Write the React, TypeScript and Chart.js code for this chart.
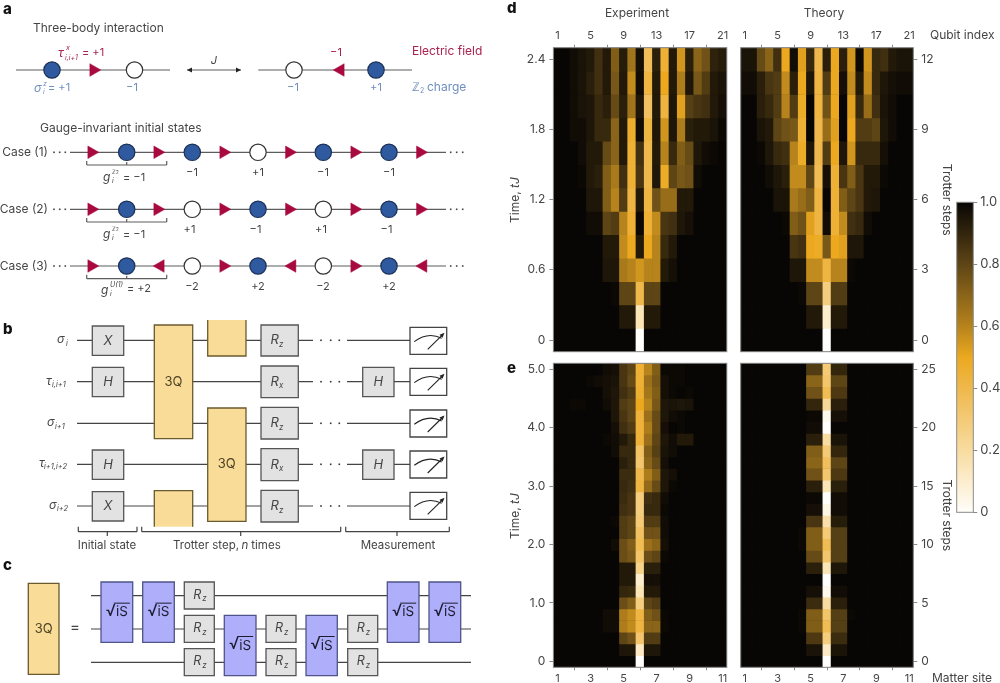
import React, { useEffect, useRef } from "react";
import Chart from "chart.js/auto";

// ---------- heatmap values, in percent of the colour bar; first row is the latest time ----------
const columnNames = ["1","2","3","4","5","6","7","8","9","10","11","12","13","14","15","16","17","18","19","20","21"];
const labelledColumns = [0, 4, 8, 12, 16, 20];
const qubitLabels = ["1", "5", "9", "13", "17", "21"];
const siteLabels = ["1", "3", "5", "7", "9", "11"];
const dRowTicks = [0, 3, 6, 9, 12];
const dTimeLabels = ["0", "0.6", "1.2", "1.8", "2.4"];
const dStepLabels = ["0", "3", "6", "9", "12"];
const eRowTicks = [0, 5, 10, 15, 20, 25];
const eTimeLabels = ["0", "1.0", "2.0", "3.0", "4.0", "5.0"];
const eStepLabels = ["0", "5", "10", "15", "20", "25"];
const colorbarTicks = [0, 0.2, 0.4, 0.6, 0.8, 1];

const dExperiment = [
  [100,100,98,96,94,87,94,72,93,65,97,37,92,45,94,55,92,70,76,91,93],
  [100,100,98,96,92,87,94,74,94,58,98,42,94,50,94,62,95,74,83,94,96],
  [100,100,98,96,95,89,92,78,92,65,95,35,94,43,95,52,82,85,87,94,97],
  [100,100,98,98,95,89,89,70,94,47,98,42,95,55,95,62,92,94,94,96,99],
  [100,100,100,98,94,94,78,70,94,45,87,40,94,60,89,72,78,95,98,99,100],
  [100,100,100,99,94,92,72,63,87,45,85,40,95,48,80,74,76,98,100,100,100],
  [100,100,100,100,95,95,72,60,83,42,94,42,76,67,67,94,94,100,100,100,100],
  [100,100,100,100,98,98,80,83,60,45,99,45,58,85,87,95,97,100,100,100,100],
  [100,100,100,100,100,100,94,94,58,50,94,50,60,89,94,100,100,100,100,100,100],
  [100,100,100,100,100,100,95,95,63,60,55,60,60,94,97,100,100,100,100,100,100],
  [100,100,100,100,100,100,100,99,80,80,40,80,80,100,100,100,100,100,100,100,100],
  [100,100,100,100,100,100,100,100,94,94,15,94,94,100,100,100,100,100,100,100,100],
  [100,100,100,100,100,100,100,100,100,100,0,100,100,100,100,100,100,100,100,100,100],
];
const dTheory = [
  [96,96,78,70,87,50,98,52,89,40,92,50,92,55,99,55,89,87,94,96,96],
  [98,98,92,85,83,58,92,50,95,42,83,50,97,58,94,58,89,95,97,98,98],
  [100,100,92,89,83,60,83,48,100,42,76,50,100,52,89,67,87,96,98,100,100],
  [100,100,96,94,80,76,74,45,100,40,67,52,100,50,83,83,80,95,98,100,100],
  [100,100,99,95,89,87,60,48,95,40,83,50,95,55,89,89,89,97,100,100,100],
  [100,100,100,98,95,92,58,58,80,38,97,45,85,72,85,94,94,99,100,100,100],
  [100,100,100,100,96,96,63,67,72,42,100,45,72,80,85,94,95,100,100,100,100],
  [100,100,100,100,100,99,72,76,52,42,98,45,58,87,89,98,100,100,100,100,100],
  [100,100,100,100,100,100,85,87,50,48,74,50,52,95,95,100,100,100,100,100,100],
  [100,100,100,100,100,100,95,95,58,58,42,60,60,99,100,100,100,100,100,100,100],
  [100,100,100,100,100,100,100,99,80,80,28,83,83,100,100,100,100,100,100,100,100],
  [100,100,100,100,100,100,100,100,94,94,10,94,94,100,100,100,100,100,100,100,100],
  [100,100,100,100,100,100,100,100,100,100,0,100,100,100,100,100,100,100,100,100,100],
];
const eExperiment = [
  [100,100,100,100,100,100,98,97,85,80,45,60,72,99,99,99,100,100,100,100,100],
  [100,100,100,100,99,98,97,96,85,78,45,66,74,97,99,99,100,100,100,100,100],
  [100,100,100,100,100,100,97,95,87,83,46,64,72,97,99,100,99,100,100,100,100],
  [100,100,99,99,100,100,98,95,83,80,50,60,74,95,96,95,96,100,100,100,100],
  [100,100,100,100,100,100,100,95,85,80,44,66,78,95,98,99,100,100,100,100,100],
  [100,100,100,100,100,100,100,97,87,83,44,62,78,97,100,99,100,100,100,100,100],
  [100,100,100,100,100,100,99,98,94,89,44,66,80,95,98,94,94,100,100,100,100],
  [100,100,100,100,100,100,100,98,89,89,34,72,82,96,98,100,100,100,100,100,100],
  [100,100,100,100,100,100,100,100,92,89,32,70,78,97,100,100,100,100,100,100,100],
  [100,100,100,100,100,100,100,100,88,88,40,62,72,95,97,100,100,100,100,100,100],
  [100,100,100,100,100,100,100,100,89,87,42,68,78,95,99,100,100,100,100,100,100],
  [100,100,100,100,100,100,100,100,88,85,28,87,89,98,100,100,100,100,100,100,100],
  [100,100,100,100,100,100,100,100,87,85,28,89,89,99,100,100,100,100,100,100,100],
  [100,100,100,100,100,100,100,99,83,80,30,83,83,98,100,100,100,100,100,100,100],
  [100,100,100,100,100,100,100,100,83,80,35,76,76,98,100,100,100,100,100,100,100],
  [100,100,100,100,100,100,100,98,77,72,38,66,70,97,100,100,100,100,100,100,100],
  [100,100,100,100,100,100,100,100,77,74,33,77,80,99,100,100,100,100,100,100,100],
  [100,100,100,100,100,100,100,100,94,94,25,92,92,100,100,100,100,100,100,100,100],
  [100,100,100,100,100,100,100,100,94,94,10,97,97,100,100,100,100,100,100,100,100],
  [100,100,100,100,100,100,100,100,90,89,15,94,94,100,100,100,100,100,100,100,100],
  [100,100,100,100,100,100,100,100,77,72,28,80,83,100,100,100,100,100,100,100,100],
  [100,100,100,100,100,100,98,98,62,58,42,72,76,99,100,100,100,100,100,100,100],
  [100,100,100,100,100,100,98,98,62,58,42,70,70,99,100,100,100,100,100,100,100],
  [100,100,100,100,100,100,100,100,80,76,32,83,83,100,100,100,100,100,100,100,100],
  [100,100,100,100,100,100,100,100,95,95,12,95,95,100,100,100,100,100,100,100,100],
  [100,100,100,100,100,100,100,100,100,100,0,100,100,100,100,100,100,100,100,100,100],
];
const eTheory = [
  [100,100,100,100,100,100,100,100,83,83,30,90,90,100,100,100,100,100,100,100,100],
  [100,100,100,100,100,100,100,100,70,70,32,80,80,100,100,100,100,100,100,100,100],
  [100,100,100,100,100,100,100,100,76,76,38,84,84,100,100,100,100,100,100,100,100],
  [100,100,100,100,100,100,100,100,90,90,22,92,92,100,100,100,100,100,100,100,100],
  [100,100,100,100,100,100,100,100,99,99,3,97,97,100,100,100,100,100,100,100,100],
  [100,100,100,100,100,100,100,100,98,98,0,100,100,100,100,100,100,100,100,100,100],
  [100,100,100,100,100,100,100,100,92,92,20,96,96,100,100,100,100,100,100,100,100],
  [100,100,100,100,100,100,100,100,72,72,30,90,90,100,100,100,100,100,100,100,100],
  [100,100,100,100,100,100,100,100,70,70,36,80,80,100,100,100,100,100,100,100,100],
  [100,100,100,100,100,100,100,100,76,76,32,84,84,100,100,100,100,100,100,100,100],
  [100,100,100,100,100,100,100,100,92,92,15,92,92,100,100,100,100,100,100,100,100],
  [100,100,100,100,100,100,100,100,99,99,0,98,98,100,100,100,100,100,100,100,100],
  [100,100,100,100,100,100,100,100,97,97,5,98,98,100,100,100,100,100,100,100,100],
  [100,100,100,100,100,100,100,100,85,85,18,93,93,100,100,100,100,100,100,100,100],
  [100,100,100,100,100,100,100,99,72,72,30,82,82,100,100,100,100,100,100,100,100],
  [100,100,100,100,100,100,100,99,72,72,38,82,82,100,100,100,100,100,100,100,100],
  [100,100,100,100,100,100,100,100,78,78,32,82,82,100,100,100,100,100,100,100,100],
  [100,100,100,100,100,100,100,100,92,92,15,95,95,100,100,100,100,100,100,100,100],
  [100,100,100,100,100,100,100,100,100,100,0,100,100,100,100,100,100,100,100,100,100],
  [100,100,100,100,100,100,100,100,97,97,3,98,98,100,100,100,100,100,100,100,100],
  [100,100,100,100,100,100,100,100,88,88,20,92,92,100,100,100,100,100,100,100,100],
  [100,100,100,100,100,100,100,99,72,72,33,82,82,99,100,100,100,100,100,100,100],
  [100,100,100,100,100,100,100,99,72,72,38,82,82,100,100,100,100,100,100,100,100],
  [100,100,100,100,100,100,100,100,84,84,28,88,88,100,100,100,100,100,100,100,100],
  [100,100,100,100,100,100,100,100,96,96,12,96,96,100,100,100,100,100,100,100,100],
  [100,100,100,100,100,100,100,100,100,100,0,100,100,100,100,100,100,100,100,100,100],
];

// ---------- colour scale ----------
const colormapStops = [0, 0.2, 0.4, 0.5, 0.6, 0.8, 1];
const colormapColors = [[255,254,250],[248,220,160],[239,184,76],[236,169,31],[182,131,28],[94,69,22],[8,6,4]];
function colorFor(percent: number) {
  const v = percent / 100;
  let i = 0;
  while (i < colormapStops.length - 2 && v > colormapStops[i + 1]) i++;
  const f = (v - colormapStops[i]) / (colormapStops[i + 1] - colormapStops[i]);
  const c = colormapColors[i].map((a, k) => Math.round(a + (colormapColors[i + 1][k] - a) * f));
  return `rgb(${c[0]},${c[1]},${c[2]})`;
}

const FONT = "Inter, 'Noto Sans', sans-serif";
const TEXT = "#454545";
const AXIS = "#8a8a8a";

const framePlugin = {
  id: "frame",
  beforeDatasetsDraw(chart: any) {
    if (chart.options.plugins.frame?.fill) {
      const a = chart.chartArea;
      chart.ctx.fillStyle = "#000";
      chart.ctx.fillRect(a.left, a.top, a.right - a.left, a.bottom - a.top);
    }
  },
  afterDraw(chart: any) {
    const a = chart.chartArea, c = chart.ctx;
    c.save();
    c.strokeStyle = AXIS;
    c.lineWidth = 1;
    c.strokeRect(a.left, a.top, a.right - a.left, a.bottom - a.top);
    c.restore();
  },
};

type Rect = { l: number; t: number; r: number; b: number };

function noScalePadding(s: any) {
  s.paddingTop = 0; s.paddingBottom = 0; s.paddingLeft = 0; s.paddingRight = 0;
}

function Heatmap({ box, area, values, xLabels, xPos, yPos, rowTicks, rowLabels, yTitle }: any) {
  const ref = useRef<HTMLCanvasElement>(null);
  useEffect(() => {
    const n = values.length;
    const datasets = values.map((row: number[], i: number) => {
      const r = n - 1 - i;
      return {
        data: row.map(() => [r - 0.5, r + 0.5]),
        backgroundColor: row.map(colorFor),
        borderWidth: 0,
        barPercentage: 1,
        categoryPercentage: 1,
        grouped: false,
      };
    });
    const chart = new Chart(ref.current!, {
      type: "bar",
      data: { labels: columnNames, datasets },
      plugins: [framePlugin],
      options: {
        animation: false,
        responsive: false,
        events: [],
        layout: {
          autoPadding: false,
          padding: {
            left: yPos === "left" ? 0 : area.l - box.l,
            right: yPos === "right" ? 0 : box.r - area.r,
            top: xPos === "top" ? 0 : area.t - box.t,
            bottom: xPos === "bottom" ? 0 : box.b - area.b,
          },
        },
        plugins: { legend: { display: false }, tooltip: { enabled: false }, frame: { fill: true } } as any,
        scales: {
          x: {
            type: "category",
            position: xPos,
            offset: true,
            afterBuildTicks: (s: any) => { s.ticks = labelledColumns.map((v) => ({ value: v })); },
            afterFit: (s: any) => { s.height = xPos === "top" ? area.t - box.t : box.b - area.b; noScalePadding(s); },
            grid: { drawOnChartArea: false, color: AXIS, tickLength: 3 },
            border: { display: false },
            ticks: {
              autoSkip: false, maxRotation: 0, minRotation: 0, padding: 2, color: TEXT,
              font: { family: FONT, size: 11 },
              callback: (v: any) => xLabels[labelledColumns.indexOf(v)],
            },
          },
          y: {
            type: "linear",
            position: yPos,
            min: -0.5,
            max: n - 0.5,
            afterBuildTicks: (s: any) => { s.ticks = rowTicks.map((v: number) => ({ value: v })); },
            afterFit: (s: any) => { s.width = yPos === "left" ? area.l - box.l : box.r - area.r; noScalePadding(s); },
            grid: { drawOnChartArea: false, color: AXIS, tickLength: 4 },
            border: { display: false },
            title: yTitle
              ? { display: true, text: yTitle, color: TEXT, padding: { top: 1, bottom: 2 }, font: { family: FONT, size: 12 } }
              : { display: false },
            ticks: {
              padding: 4, color: TEXT, font: { family: FONT, size: 12 },
              callback: (v: any) => rowLabels[rowTicks.indexOf(v)],
            },
          },
        },
      } as any,
    });
    return () => chart.destroy();
  }, []);
  return (
    <canvas
      ref={ref}
      width={box.r - box.l}
      height={box.b - box.t}
      style={{ position: "absolute", left: box.l, top: box.t, width: box.r - box.l, height: box.b - box.t }}
    />
  );
}

function Colorbar() {
  const ref = useRef<HTMLCanvasElement>(null);
  const box: Rect = { l: 950, t: 180, r: 1000, b: 530 };
  const area: Rect = { l: 956.7, t: 202.3, r: 973.3, b: 512.3 };
  useEffect(() => {
    const chart = new Chart(ref.current!, {
      type: "bar",
      data: {
        labels: ["colour"],
        datasets: [{
          data: [[0, 1]],
          barPercentage: 1,
          categoryPercentage: 1,
          borderWidth: 0,
          backgroundColor: (ctx: any) => {
            const a = ctx.chart.chartArea;
            if (!a || !isFinite(a.top) || !isFinite(a.bottom)) return "#000";
            const g = ctx.chart.ctx.createLinearGradient(0, a.bottom, 0, a.top);
            colormapStops.forEach((p, i) => { const c = colormapColors[i]; g.addColorStop(p, `rgb(${c[0]},${c[1]},${c[2]})`); });
            return g;
          },
        }],
      },
      plugins: [framePlugin],
      options: {
        animation: false, responsive: false, events: [],
        layout: { autoPadding: false, padding: { left: area.l - box.l, top: area.t - box.t, bottom: box.b - area.b, right: 0 } },
        plugins: { legend: { display: false }, tooltip: { enabled: false } },
        scales: {
          x: { display: false, offset: true },
          y: {
            position: "right", min: 0, max: 1,
            afterBuildTicks: (s: any) => { s.ticks = colorbarTicks.map((v) => ({ value: v })); },
            afterFit: (s: any) => { s.width = box.r - area.r; noScalePadding(s); },
            grid: { drawOnChartArea: false, color: AXIS, tickLength: 4 },
            border: { display: false },
            ticks: {
              padding: 3, color: TEXT, font: { family: FONT, size: 13 },
              callback: (v: any) => (v === 0 ? "0" : Number(v).toFixed(1)),
            },
          },
        },
      } as any,
    });
    return () => chart.destroy();
  }, []);
  return (
    <canvas ref={ref} width={box.r - box.l} height={box.b - box.t}
      style={{ position: "absolute", left: box.l, top: box.t, width: box.r - box.l, height: box.b - box.t }} />
  );
}

// ---------- schematic (panels a, b, c) placed on a page-sized scale ----------
const caseRowsY = [152.3, 209.3, 266];
const caseChargesX = [126.7, 192.3, 258, 323.3, 389];
const caseFieldsX = [93, 159, 225, 290.7, 356, 421.7];
const caseFilled = [[1, 1, 0, 1, 1], [1, 0, 1, 0, 1], [1, 0, 1, 0, 1]];
const caseDirections = [[1, 1, 1, 1, 1, 1], [1, 1, 1, 1, 1, 1], [1, -1, 1, -1, 1, -1]];
const caseNames = ["Case (1)", "Case (2)", "Case (3)"];
const caseValues = [
  { y: 172.7, items: [["−1", 192], ["+1", 258], ["−1", 323], ["−1", 389]] },
  { y: 230, items: [["+1", 189.5], ["−1", 255.5], ["+1", 321], ["−1", 386.5]] },
  { y: 286.7, items: [["−2", 192], ["+2", 258], ["−2", 323], ["+2", 389]] },
];
const wireRowsY = [340.3, 381.7, 423.3, 464.3, 506];
const sqrtRowsY = [595.7, 629, 662.3];

function pts(list: number[][]) { return list.map(([x, y]) => ({ x, y })); }
function segs(list: number[][]) {
  const out: any[] = [];
  list.forEach(([a, b, c, d]) => { out.push({ x: a, y: b }, { x: c, y: d }, { x: NaN, y: NaN }); });
  return out;
}

const schematicPlugin = {
  id: "schematic",
  afterDatasetsDraw(chart: any) {
    const c = chart.ctx;
    const X = (v: number) => chart.scales.x.getPixelForValue(v);
    const Y = (v: number) => chart.scales.y.getPixelForValue(v);
    const t = (s: string, x: number, y: number, o: any = {}) => {
      c.save();
      c.font = `${o.italic ? "italic " : ""}${o.weight ? o.weight + " " : ""}${o.size || 12}px ${FONT}`;
      c.fillStyle = o.color || TEXT;
      c.textAlign = o.align || "left";
      c.textBaseline = "middle";
      c.fillText(s, X(x), Y(y));
      c.restore();
    };
    const rect = (x1: number, y1: number, x2: number, y2: number, fill: string, stroke: string, open?: string) => {
      c.save();
      c.fillStyle = fill;
      c.strokeStyle = stroke;
      c.lineWidth = 1.3;
      const a = X(x1), b = Y(y1), w = X(x2) - a, h = Y(y2) - b;
      c.fillRect(a, b, w, h);
      c.beginPath();
      if (open === "top") {
        c.moveTo(a, b); c.lineTo(a, b + h); c.lineTo(a + w, b + h); c.lineTo(a + w, b);
      } else if (open === "bottom") {
        c.moveTo(a, b + h); c.lineTo(a, b); c.lineTo(a + w, b); c.lineTo(a + w, b + h);
      } else {
        c.rect(a, b, w, h);
      }
      c.stroke();
      c.restore();
    };
    const GREY = "#e2e2e2", GS = "#555", YEL = "#f8dc98", YS = "#6b5a2c", PUR = "#aeaefa", PS = "#4f5488";

    // panel letters
    [["a", 3, 9], ["b", 3, 329], ["c", 3, 565], ["d", 507, 8], ["e", 507, 368]].forEach(([s, x, y]: any) =>
      t(s, x, y, { size: 15, weight: 800, color: "#111" }));

    // panel a
    const RED = "#a8224f", BL = "#6f8fbe";
    t("Three-body interaction", 33, 28, { size: 12 });
    t("Gauge-invariant initial states", 40, 128, { size: 12 });
    t("τ", 58, 53, { color: RED, italic: true, size: 12 });
    t("x", 66, 48, { color: RED, italic: true, size: 7 });
    t("i,i+1", 65, 58, { color: RED, italic: true, size: 7 });
    t("= +1", 82, 53, { color: RED, size: 11 });
    t("−1", 336, 53, { color: RED, size: 11, align: "center" });
    t("Electric field", 412, 51, { color: RED, size: 12 });
    t("σ", 34, 88, { color: BL, italic: true, size: 12 });
    t("z", 43, 84, { color: BL, italic: true, size: 7 });
    t("i", 43, 92, { color: BL, italic: true, size: 7 });
    t("= +1", 48, 88, { color: BL, size: 11 });
    t("−1", 132, 88, { color: BL, size: 11, align: "center" });
    t("−1", 293, 88, { color: BL, size: 11, align: "center" });
    t("+1", 376, 88, { color: BL, size: 11, align: "center" });
    t("ℤ", 412, 87, { color: BL, size: 12 });
    t("2", 420, 91, { color: BL, size: 7 });
    t("charge", 427, 87, { color: BL, size: 12 });
    t("J", 214, 61, { italic: true, size: 11, align: "center" });
    c.save();
    c.fillStyle = "#222";
    [[187, 1], [241, -1]].forEach(([x, d]) => {
      c.beginPath();
      c.moveTo(X(x), Y(70)); c.lineTo(X(x + 5 * d), Y(67.6)); c.lineTo(X(x + 5 * d), Y(72.4));
      c.fill();
    });
    c.restore();

    // cases
    caseRowsY.forEach((y, i) => {
      t(caseNames[i], 48, y, { size: 12, align: "right" });
      [54, 59.7, 65.3, 450.7, 456.7, 462.7].forEach((x) => {
        c.fillStyle = "#444";
        c.fillRect(X(x) - 0.8, Y(y) - 0.8, 1.6, 1.6);
      });
      caseValues[i].items.forEach(([s, x]: any) => t(s, x, caseValues[i].y, { size: 11, align: "center" }));
    });
    [177, 234].forEach((y) => {
      t("g", 103, y, { italic: true, size: 12 });
      t("ℤ", 112, y - 5, { size: 6 });
      t("2", 116, y - 4, { size: 4.5 });
      t("i", 112, y + 4, { italic: true, size: 7 });
      t("= −1", 123, y + 0.5, { size: 11 });
    });
    t("g", 101, 290, { italic: true, size: 12 });
    t("U(1)", 110, 285, { italic: true, size: 7 });
    t("i", 110, 294, { italic: true, size: 7 });
    t("= +2", 127, 289, { size: 11 });

    // panel b gates
    [326, 491.7].forEach((y, i) => {
      rect(92.3, y, 123.7, y + 29.3, GREY, GS);
      t("X", 108, y + 14.7, { italic: true, size: 13, align: "center" });
    });
    [367.3, 450].forEach((y) => {
      rect(92.3, y, 123.7, y + 29.3, GREY, GS);
      t("H", 108, y + 14.7, { italic: true, size: 13, align: "center" });
      rect(362.7, y, 394, y + 29.3, GREY, GS);
      t("H", 378.3, y + 14.7, { italic: true, size: 13, align: "center" });
    });
    rect(154.3, 325, 192.7, 438.7, YEL, YS);
    t("3Q", 173.5, 382, { size: 13, align: "center", color: "#4d4324" });
    rect(207.7, 320, 246, 356, YEL, YS, "top");
    rect(154.3, 490.7, 192.7, 526.7, YEL, YS, "bottom");
    rect(207.7, 408, 246, 521.3, YEL, YS);
    t("3Q", 226.8, 464.5, { size: 13, align: "center", color: "#4d4324" });
    [[325, 356, "z"], [366, 397.7, "x"], [407.3, 439, "z"], [448.7, 480.7, "x"], [490.3, 522, "z"]].forEach(([a, b, s]: any) => {
      rect(261, a, 298.3, b, GREY, GS);
      const m = (a + b) / 2;
      t("R", 270.5, m, { italic: true, size: 13 });
      t(s, 279, m + 4, { italic: true, size: 8 });
    });
    [327.3, 368.3, 410, 451, 492.3].forEach((y) => {
      rect(410, y, 446.7, y + 27, "#fff", "#444");
      c.save();
      c.strokeStyle = "#222"; c.lineWidth = 1.1;
      c.beginPath();
      c.moveTo(X(414.3), Y(y + 14.3));
      c.quadraticCurveTo(X(428), Y(y + 4), X(441.7), Y(y + 11));
      c.moveTo(X(427.7), Y(y + 22));
      c.lineTo(X(443), Y(y + 7));
      c.stroke();
      c.fillStyle = "#222";
      c.beginPath();
      c.moveTo(X(444.5), Y(y + 5.5)); c.lineTo(X(439.5), Y(y + 7.5)); c.lineTo(X(442.5), Y(y + 10.5));
      c.fill();
      c.restore();
    });
    wireRowsY.forEach((y) => {
      [321, 330.7, 339.3].forEach((x) => {
        c.fillStyle = "#333";
        c.fillRect(X(x) - 0.8, Y(y) - 0.8, 1.6, 1.6);
      });
    });
    [["σ", 57, 340, "i", 66, 343], ["τ", 46, 382, "i,i+1", 52, 384], ["σ", 47, 423, "i+1", 55, 426],
     ["τ", 39, 464, "i+1,i+2", 44, 466], ["σ", 49, 506, "i+2", 57, 508]].forEach(([a, x, y, s, sx, sy]: any) => {
      t(a, x, y - 1, { italic: true, size: 12 });
      t(s, sx, sy + 1, { italic: true, size: 7.5 });
    });
    t("Initial state", 107, 546, { size: 11.5, align: "center" });
    t("Trotter step,", 206, 546, { size: 11.5, align: "center" });
    t("n", 245, 546, { size: 11.5, italic: true, align: "center" });
    t("times", 266, 546, { size: 11.5, align: "center" });
    t("Measurement", 398, 546, { size: 11.5, align: "center" });

    // panel c gates
    rect(28.3, 583.3, 59, 674.3, YEL, YS);
    t("3Q", 43.7, 629, { size: 13, align: "center", color: "#4d4324" });
    t("=", 75, 627, { size: 15, align: "center" });
    const sqrt = (x1: number, x2: number, y1: number, y2: number) => {
      rect(x1, y1, x2, y2, PUR, PS);
      const cx = (x1 + x2) / 2, cy = (y1 + y2) / 2 - 1;
      t("√", cx - 6, cy, { size: 16, align: "center", color: "#1c1c30" });
      t("iS", cx + 5, cy + 1, { size: 13.5, align: "center", color: "#1c1c30" });
      c.save();
      c.strokeStyle = "#1c1c30"; c.lineWidth = 1;
      c.beginPath(); c.moveTo(X(cx - 3), Y(cy - 8)); c.lineTo(X(cx + 13), Y(cy - 8)); c.stroke();
      c.restore();
    };
    sqrt(101, 132.7, 582, 642.3);
    sqrt(142.7, 174.3, 582, 642.3);
    sqrt(224.3, 256, 615.3, 675.7);
    sqrt(306, 337.3, 615.3, 675.7);
    sqrt(387.3, 419, 582, 642.3);
    sqrt(429, 460.7, 582, 642.3);
    [[184.3, 582], [184.3, 615.3], [184.3, 648.7], [266, 615.3], [266, 648.7], [347.7, 615.3], [347.7, 648.7]].forEach(([x, y]) => {
      rect(x, y, x + 30, y + 27, GREY, GS);
      t("R", x + 9, y + 13, { italic: true, size: 12.5 });
      t("z", x + 18, y + 17, { italic: true, size: 8 });
    });

    // labels of panels d and e
    t("Experiment", 637, 13, { size: 12, align: "center" });
    t("Theory", 824, 13, { size: 12, align: "center" });
    t("Qubit index", 930, 35, { size: 12 });
    t("Matter site", 932, 678, { size: 12 });
    [[515, 200], [515, 516]].forEach(([x, y]) => {
      c.save();
      c.translate(X(x), Y(y));
      c.rotate(-Math.PI / 2);
      c.fillStyle = TEXT;
      c.textBaseline = "middle";
      c.textAlign = "left";
      c.font = `12px ${FONT}`;
      const w1 = c.measureText("Time, ").width;
      c.fillText("Time, ", -23, 0);
      c.font = `italic 12px ${FONT}`;
      c.fillText("tJ", -23 + w1, 0);
      c.restore();
    });
  },
};

function Schematic() {
  const ref = useRef<HTMLCanvasElement>(null);
  useEffect(() => {
    const filled: number[][] = [[52, 70], [376, 70]];
    const hollow: number[][] = [[134.5, 70], [294, 70]];
    const right: number[][] = [[93.5, 70]];
    const left: number[][] = [[340.5, 70]];
    caseRowsY.forEach((y, r) => {
      caseChargesX.forEach((x, i) => (caseFilled[r][i] ? filled : hollow).push([x, y]));
      caseFieldsX.forEach((x, i) => (caseDirections[r][i] > 0 ? right.push([x - 1.5, y]) : left.push([x + 1.5, y])));
    });
    const greyWires = segs([
      [16, 70, 170, 70], [258.3, 70, 412, 70], [187, 70, 241, 70],
      ...caseRowsY.map((y) => [70, y, 446, y]),
      ...caseRowsY.flatMap((y) => [
        [86.7, y + 8.7, 86.7, y + 12.7], [86.7, y + 12.7, 166.7, y + 12.7], [166.7, y + 12.7, 166.7, y + 8.7],
        [126.7, y + 12.7, 126.7, y + 9.7],
      ]),
    ]);
    const circuitWires = segs([
      ...wireRowsY.map((y) => [77, y, 313, y]),
      ...wireRowsY.map((y) => [347, y, 410, y]),
      [78.3, 526.7, 78.3, 531.7], [78.3, 531.7, 137, 531.7], [137, 531.7, 137, 526.7], [107.3, 531.7, 107.3, 536],
      [141.7, 526.7, 141.7, 531.7], [141.7, 531.7, 340.7, 531.7], [340.7, 531.7, 340.7, 526.7], [240.7, 531.7, 240.7, 536],
      [345.7, 526.7, 345.7, 531.7], [345.7, 531.7, 449.3, 531.7], [449.3, 531.7, 449.3, 526.7], [397, 531.7, 397, 536],
      ...sqrtRowsY.map((y) => [91, y, 471, y]),
    ]);
    const dot = { showLine: false };
    const chart = new Chart(ref.current!, {
      type: "scatter",
      data: {
        datasets: [
          { ...dot, data: pts(filled), pointStyle: "circle", pointRadius: 8.2, backgroundColor: "#2f5a9f", borderColor: "#1d3157", pointBorderWidth: 1.2 },
          { ...dot, data: pts(hollow), pointStyle: "circle", pointRadius: 8.2, backgroundColor: "#fff", borderColor: "#333", pointBorderWidth: 1.2 },
          { ...dot, data: pts(right), pointStyle: "triangle", rotation: 90, pointRotation: 90, pointRadius: 7.3, backgroundColor: "#a8093f", borderColor: "#a8093f", pointBorderWidth: 0.5 },
          { ...dot, data: pts(left), pointStyle: "triangle", rotation: -90, pointRotation: -90, pointRadius: 7.3, backgroundColor: "#a8093f", borderColor: "#a8093f", pointBorderWidth: 0.5 },
          { data: greyWires, showLine: true, pointRadius: 0, borderColor: "#5c5c5c", borderWidth: 1.2, spanGaps: false },
          { data: circuitWires, showLine: true, pointRadius: 0, borderColor: "#444", borderWidth: 1.2, spanGaps: false },
        ],
      },
      plugins: [schematicPlugin],
      options: {
        animation: false, responsive: false, events: [],
        layout: { autoPadding: false, padding: 0 },
        plugins: { legend: { display: false }, tooltip: { enabled: false } },
        scales: {
          x: { type: "linear", display: false, min: 0, max: 1000 },
          y: { type: "linear", display: false, min: 0, max: 683, reverse: true },
        },
      } as any,
    });
    return () => chart.destroy();
  }, []);
  return <canvas ref={ref} width={1000} height={683} style={{ position: "absolute", left: 0, top: 0, width: 1000, height: 683, pointerEvents: "none" }} />;
}

const dExpBox = { box: { l: 520, t: 20, r: 735, b: 360 }, area: { l: 553.4, t: 47.7, r: 726.8, b: 351.7 } };
const dThBox = { box: { l: 733, t: 20, r: 955, b: 360 }, area: { l: 740.7, t: 47.7, r: 913.3, b: 351.7 } };
const eExpBox = { box: { l: 520, t: 355, r: 735, b: 683 }, area: { l: 553.4, t: 363.3, r: 726.8, b: 667.3 } };
const eThBox = { box: { l: 733, t: 355, r: 955, b: 683 }, area: { l: 740.7, t: 363.3, r: 913.3, b: 667.3 } };

export default function App() {
  return (
    <div style={{ position: "fixed", left: 0, top: 0, width: 1000, height: 683, background: "#fff", overflow: "hidden" }}>
      <Heatmap {...dExpBox} values={dExperiment} xLabels={qubitLabels} xPos="top" yPos="left" rowTicks={dRowTicks} rowLabels={dTimeLabels} />
      <Heatmap {...dThBox} values={dTheory} xLabels={qubitLabels} xPos="top" yPos="right" rowTicks={dRowTicks} rowLabels={dStepLabels} yTitle="Trotter steps" />
      <Heatmap {...eExpBox} values={eExperiment} xLabels={siteLabels} xPos="bottom" yPos="left" rowTicks={eRowTicks} rowLabels={eTimeLabels} />
      <Heatmap {...eThBox} values={eTheory} xLabels={siteLabels} xPos="bottom" yPos="right" rowTicks={eRowTicks} rowLabels={eStepLabels} yTitle="Trotter steps" />
      <Colorbar />
      <Schematic />
    </div>
  );
}
